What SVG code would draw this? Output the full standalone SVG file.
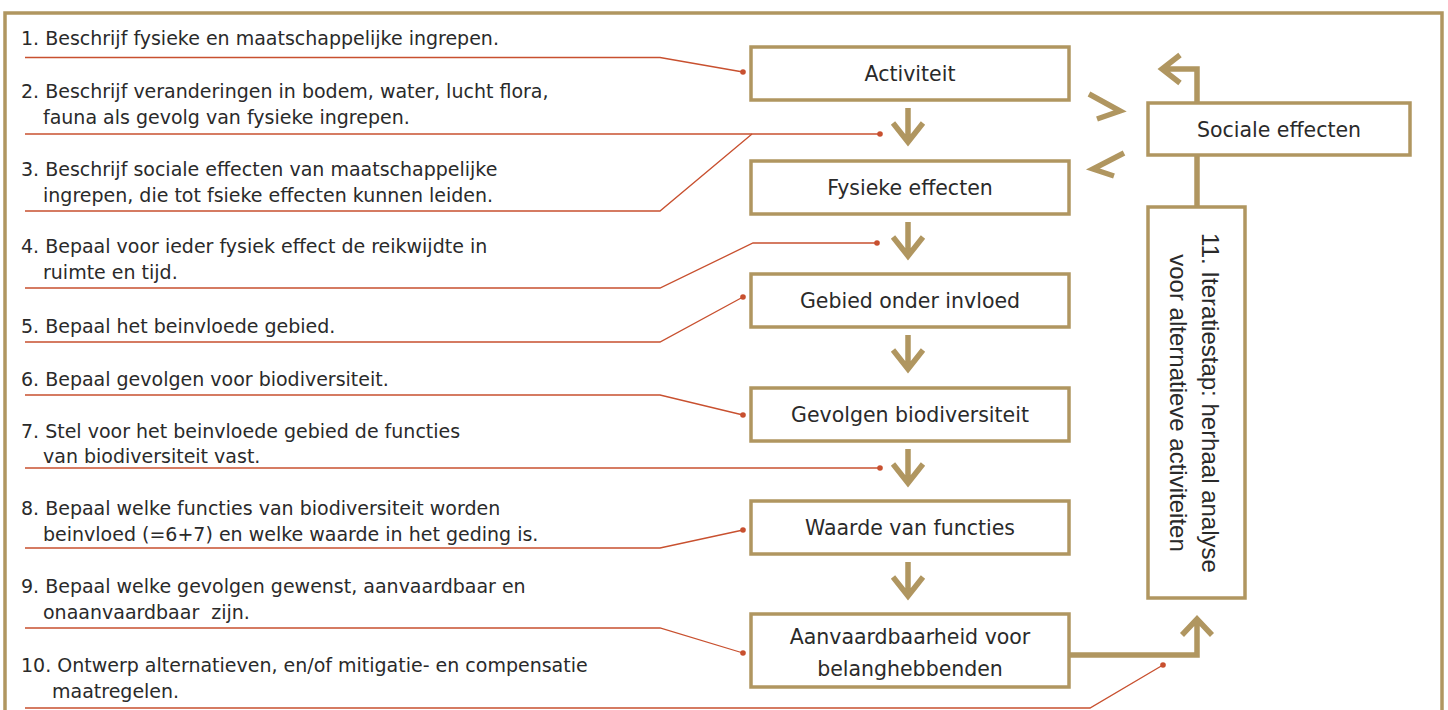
<svg xmlns="http://www.w3.org/2000/svg" width="1448" height="710" viewBox="0 0 1448 710">
<style>
.frame{fill:none;stroke:#B09660;stroke-width:3.5}
.box{fill:#fff;stroke:#B09660;stroke-width:3.5}
.gold{fill:none;stroke:#B09660;stroke-width:5.5;stroke-linecap:butt;stroke-linejoin:miter}
.lead{fill:none;stroke:#C8502F;stroke-width:1.3}
.dot{fill:#C8502F}
.lt{font-family:"DejaVu Sans",sans-serif;font-size:19px;fill:#2a2a2a;white-space:pre}
.bt{font-family:"DejaVu Sans",sans-serif;font-size:20.5px;fill:#2a2a2a;text-anchor:middle}
.rt{font-family:"Liberation Sans",Arial,sans-serif;font-size:24px;fill:#2a2a2a;text-anchor:middle}
</style>
<rect x="0" y="0" width="1448" height="710" fill="#fff"/>
<path class="frame" d="M5,712 V13 H1442 V712"/>

<g id="labels">
<text class="lt" x="21" y="45">1. Beschrijf fysieke en maatschappelijke ingrepen.</text>
<text class="lt" x="21" y="98">2. Beschrijf veranderingen in bodem, water, lucht flora,</text>
<text class="lt" x="43" y="124">fauna als gevolg van fysieke ingrepen.</text>
<text class="lt" x="21" y="176">3. Beschrijf sociale effecten van maatschappelijke</text>
<text class="lt" x="43" y="202">ingrepen, die tot fsieke effecten kunnen leiden.</text>
<text class="lt" x="21" y="253">4. Bepaal voor ieder fysiek effect de reikwijdte in</text>
<text class="lt" x="43" y="279">ruimte en tijd.</text>
<text class="lt" x="21" y="333">5. Bepaal het beinvloede gebied.</text>
<text class="lt" x="21" y="386">6. Bepaal gevolgen voor biodiversiteit.</text>
<text class="lt" x="21" y="438">7. Stel voor het beinvloede gebied de functies</text>
<text class="lt" x="43" y="463">van biodiversiteit vast.</text>
<text class="lt" x="21" y="515">8. Bepaal welke functies van biodiversiteit worden</text>
<text class="lt" x="43" y="541">beinvloed (=6+7) en welke waarde in het geding is.</text>
<text class="lt" x="21" y="593">9. Bepaal welke gevolgen gewenst, aanvaardbaar en</text>
<text class="lt" x="43" y="619">onaanvaardbaar  zijn.</text>
<text class="lt" x="21" y="672">10. Ontwerp alternatieven, en/of mitigatie- en compensatie</text>
<text class="lt" x="52" y="698">maatregelen.</text>
</g>

<g id="connectors">
<path class="lead" d="M25,57.5 H660 L743,72"/>
<path class="lead" d="M25,134 H880"/>
<path class="lead" d="M25,211 H660 L752,134"/>
<path class="lead" d="M25,288 H660 L753,243 H877"/>
<path class="lead" d="M25,342 H660 L743,297"/>
<path class="lead" d="M25,395 H660 L743,415"/>
<path class="lead" d="M25,468 H880"/>
<path class="lead" d="M25,548 H660 L743,530"/>
<path class="lead" d="M25,628 H660 L743,653"/>
<path class="lead" d="M25,708 H1090 L1163,665"/>
<circle class="dot" cx="743" cy="72" r="2.8"/>
<circle class="dot" cx="880" cy="134" r="2.8"/>
<circle class="dot" cx="877" cy="243" r="2.8"/>
<circle class="dot" cx="743" cy="297" r="2.8"/>
<circle class="dot" cx="743" cy="415" r="2.8"/>
<circle class="dot" cx="880" cy="468" r="2.8"/>
<circle class="dot" cx="743" cy="530" r="2.8"/>
<circle class="dot" cx="743" cy="653" r="2.8"/>
<circle class="dot" cx="1163" cy="665" r="2.8"/>

<path class="gold" d="M908,108 V142 M893,123 L908,142 L923,123"/>
<path class="gold" d="M908,222 V256 M893,237 L908,256 L923,237"/>
<path class="gold" d="M908,335 V369 M893,350 L908,369 L923,350"/>
<path class="gold" d="M908,449 V483 M893,464 L908,483 L923,464"/>
<path class="gold" d="M908,562 V596 M893,577 L908,596 L923,577"/>
<path class="gold" d="M1089,94 L1120,111 L1097,119"/>
<path class="gold" d="M1124,153 L1093,169 L1114,176"/>
<path class="gold" d="M1197,103 V69 H1162 M1180,55 L1162,69 L1180,83"/>
<path class="gold" d="M1197,155 V207"/>
<path class="gold" d="M1069,655 H1197 V619 M1182,635 L1197,619 L1212,635"/>
</g>

<g id="activiteit"><rect class="box" x="751" y="47" width="318" height="53"/><text class="bt" x="910" y="81">Activiteit</text></g>
<g id="fysieke-effecten"><rect class="box" x="751" y="161" width="318" height="53"/><text class="bt" x="910" y="195">Fysieke effecten</text></g>
<g id="gebied"><rect class="box" x="751" y="274" width="318" height="53"/><text class="bt" x="910" y="308">Gebied onder invloed</text></g>
<g id="gevolgen"><rect class="box" x="751" y="388" width="318" height="53"/><text class="bt" x="910" y="422">Gevolgen biodiversiteit</text></g>
<g id="waarde"><rect class="box" x="751" y="501" width="318" height="53"/><text class="bt" x="910" y="535">Waarde van functies</text></g>
<g id="aanvaardbaarheid"><rect class="box" x="751" y="614" width="318" height="73"/><text class="bt" x="910" y="644">Aanvaardbaarheid voor</text><text class="bt" x="910" y="676">belanghebbenden</text></g>
<g id="sociale-effecten"><rect class="box" x="1148" y="103" width="262" height="52"/><text class="bt" x="1279" y="137">Sociale effecten</text></g>
<g id="iteratie"><rect class="box" x="1148" y="207" width="97" height="391"/>
<g transform="translate(1202,403) rotate(90)"><text class="rt" x="0" y="0">11. Iteratiestap: herhaal analyse</text><text class="rt" x="0" y="32">voor alternatieve activiteiten</text></g>
</g>
</svg>
